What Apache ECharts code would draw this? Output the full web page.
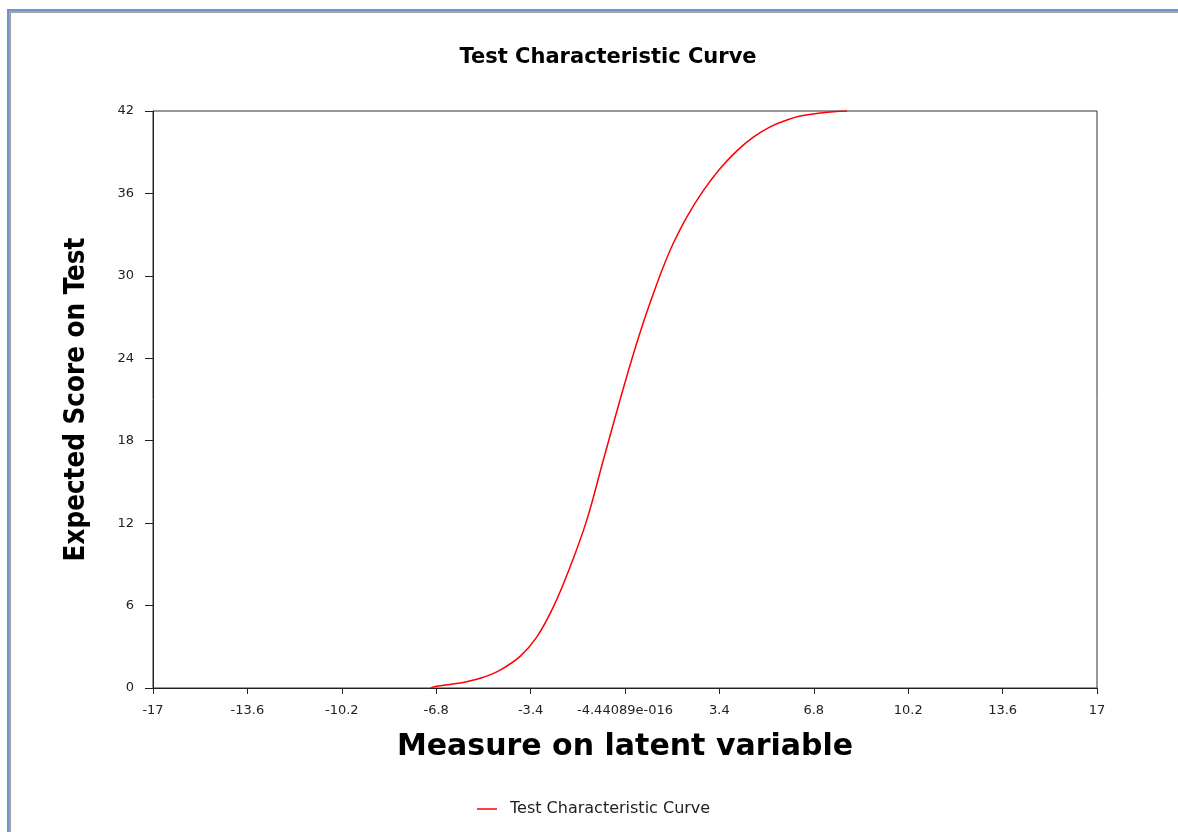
<!DOCTYPE html>
<html>
<head>
<meta charset="utf-8">
<title>Test Characteristic Curve</title>
<script src="https://cdn.jsdelivr.net/npm/echarts@6/dist/echarts.min.js"></script>
<style>
  body { margin: 0; background: #fff; }
  #wrap { position: relative; width: 1178px; height: 832px; overflow: hidden; }
  .frame1 { position: absolute; left: 7px; top: 9px; right: -10px; bottom: -10px;
            border-top: 2px solid #6f95cf; border-left: 2px solid #6f95cf; }
  .frame2 { position: absolute; left: 9px; top: 11px; right: -10px; bottom: -10px;
            border-top: 2px solid #a3a3a3; border-left: 2px solid #a3a3a3; }
  #main { position: absolute; left: 0; top: 0; width: 1178px; height: 832px; }
</style>
</head>
<body>
<div id="wrap">
  <div class="frame1"></div>
  <div class="frame2"></div>
  <div id="main"></div>
</div>
<script>
// values
var theta = [-7.0, -6.8, -6.2, -5.7, -5.1, -4.5, -3.78, -3.18, -2.58, -1.98, -1.38, -0.78, -0.18,
             0.24, 0.66, 1.02, 1.38, 1.74, 2.23, 2.82, 3.42, 4.03, 4.62, 5.23, 5.83, 6.31, 6.9, 7.5, 8.0];
var score = [0.0, 0.12, 0.29, 0.46, 0.78, 1.3, 2.3, 3.7, 5.9, 8.8, 12.2, 16.6, 20.96,
             23.9, 26.6, 28.7, 30.66, 32.37, 34.3, 36.2, 37.8, 39.1, 40.1, 40.85, 41.34, 41.63, 41.82, 41.95, 42.0];
var xTickLabels = ['-17', '-13.6', '-10.2', '-6.8', '-3.4', '-4.44089e-016', '3.4', '6.8', '10.2', '13.6', '17'];

var points = [];
for (var i = 0; i < theta.length; i++) {
  points.push([theta[i], score[i]]);
}

var chart = echarts.init(document.getElementById('main'));
var wide = "'DejaVu Sans', 'Liberation Sans', sans-serif";

var option = {
  animation: false,
  title: {
    text: 'Test Characteristic Curve',
    left: 603,
    top: 42,
    textAlign: 'center',
    textStyle: { fontFamily: wide, fontSize: 21, fontWeight: 'bold', color: '#000' }
  },
  legend: {
    data: ['Test Characteristic Curve'],
    left: 472,
    top: 796,
    icon: 'rect',
    itemWidth: 20,
    itemHeight: 1.5,
    itemGap: 10,
    textStyle: { fontFamily: wide, fontSize: 16, color: '#222', padding: [0, 0, 0, 8] }
  },
  grid: {
    left: 153, right: 81, top: 111, bottom: 144,
    show: true, borderColor: '#333', borderWidth: 1
  },
  xAxis: {
    type: 'value',
    min: -17, max: 17, interval: 3.4,
    name: 'Measure on latent variable',
    nameLocation: 'middle',
    nameGap: 44,
    nameTextStyle: { fontFamily: wide, fontSize: 30, fontWeight: 'bold', color: '#000' },
    axisLine: { onZero: false, lineStyle: { color: '#222', width: 1 } },
    axisTick: { length: 6, lineStyle: { color: '#222' } },
    splitLine: { show: false },
    axisLabel: {
      fontFamily: wide, fontSize: 13, color: '#222', margin: 16,
      formatter: function (v) {
        return xTickLabels[Math.round((v + 17) / 3.4)];
      }
    }
  },
  yAxis: {
    type: 'value',
    min: 0, max: 42, interval: 6,
    name: 'Expected Score on Test',
    nameLocation: 'middle',
    nameGap: 62,
    nameTextStyle: {
      fontFamily: "'DejaVu Sans Condensed', 'Liberation Sans Narrow', 'Liberation Sans', sans-serif",
      fontSize: 27.5, fontWeight: 'bold', color: '#000'
    },
    axisLine: { show: true, onZero: false, lineStyle: { color: '#222', width: 1 } },
    axisTick: { show: true, length: 8, lineStyle: { color: '#222' } },
    splitLine: { show: false },
    axisLabel: { fontFamily: wide, fontSize: 13, color: '#222', margin: 19 }
  },
  series: [
    {
      name: 'Test Characteristic Curve',
      type: 'line',
      data: points,
      symbol: 'none',
      smooth: 0.4,
      lineStyle: { color: '#ff0000', width: 1.5 },
      itemStyle: { color: '#ff0000' }
    }
  ]
};

chart.setOption(option);
</script>
</body>
</html>
